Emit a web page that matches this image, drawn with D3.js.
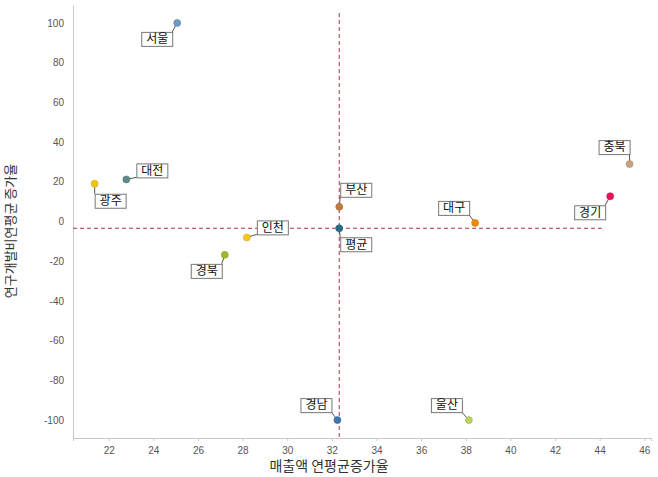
<!DOCTYPE html>
<html>
<head>
<meta charset="utf-8">
<script src="https://cdn.jsdelivr.net/npm/d3@7"></script>
<style>
	body { margin: 0; background: #fff; }
	text { font-family: "Noto Sans CJK KR", "Noto Sans", sans-serif; }
</style>
</head>
<body>
<div id="chart"></div>
<script>
// regions and their values
var regions = ["서울", "대전", "광주", "인천", "경북", "경남", "울산", "부산", "대구", "경기", "충북"];
var salesGrowth = [25.07, 22.79, 21.37, 28.19, 27.2, 32.25, 38.14, 32.33, 38.42, 44.47, 45.34];
var rndGrowth = [100, 21.2, 19, -8, -16.8, -100, -100, 7.4, -0.7, 12.7, 28.9];
var pointColors = ["#6e9ac4", "#5f8a8a", "#f2c40f", "#f6c623", "#9dbb2d", "#3d74b2", "#b6d35c", "#c07a3f", "#ef8a0f", "#e8135a", "#c4a37e"];

// average point
var avgName = "평균";
var avgX = 32.33;
var avgY = -3.4;
var avgColor = "#2c6a8a";
var avgLineEnd = 44.1;

var xTicks = [22, 24, 26, 28, 30, 32, 34, 36, 38, 40, 42, 44, 46];
var yTicks = [-100, -80, -60, -40, -20, 0, 20, 40, 60, 80, 100];

// where each label box goes relative to its point, and which corner the leader touches
var labelLayout = {
	"서울": {dx: -36, dy: 9, corner: "tr"},
	"대전": {dx: 10, dy: -16, corner: "bl"},
	"광주": {dx: 0, dy: 10, corner: "tl"},
	"인천": {dx: 10, dy: -17, corner: "bl"},
	"경북": {dx: -34, dy: 9, corner: "tr"},
	"경남": {dx: -37, dy: -22, corner: "br"},
	"울산": {dx: -38, dy: -22, corner: "br"},
	"부산": {dx: 1, dy: -24, corner: "bl"},
	"평균": {dx: 1, dy: 9, corner: "tl"},
	"대구": {dx: -37, dy: -22, corner: "br"},
	"경기": {dx: -36, dy: 9, corner: "tr"},
	"충북": {dx: -31, dy: -24, corner: "br"}
};

var width = 658, height = 477;
var svg = d3.select("#chart").append("svg")
	.attr("width", width)
	.attr("height", height);

var x = d3.scaleLinear().domain([20.4, 46.3]).range([73, 651]);
var y = d3.scaleLinear().domain([-109, 109]).range([438, 5]);

var fmt = function(d) { return String(d); };

// axes
var xAxis = svg.append("g")
	.attr("transform", "translate(0," + y.range()[0] + ")")
	.call(d3.axisBottom(x).tickValues(xTicks).tickFormat(fmt).tickSize(3).tickPadding(6));
var yAxis = svg.append("g")
	.attr("transform", "translate(" + x.range()[0] + ",0)")
	.call(d3.axisLeft(y).tickValues(yTicks).tickFormat(fmt).tickSize(0).tickPadding(9));

[xAxis, yAxis].forEach(function(a) {
	a.select(".domain").attr("stroke", "#c8c8c8");
	a.selectAll(".tick line").attr("stroke", "#c8c8c8");
	a.selectAll(".tick text")
		.attr("fill", "#555")
		.style("font-size", "10px")
		.style("font-family", "'Liberation Sans', Arial, sans-serif");
});

// axis titles
svg.append("text")
	.attr("x", 329)
	.attr("y", 471)
	.attr("text-anchor", "middle")
	.attr("fill", "#333")
	.style("font-size", "14px")
	.text("매출액 연평균증가율");

svg.append("text")
	.attr("transform", "translate(15,231) rotate(-90)")
	.attr("text-anchor", "middle")
	.attr("fill", "#333")
	.style("font-size", "13px")
	.text("연구개발비연평균 증가율");

// average reference lines
var dash = "4,3";
svg.append("line")
	.attr("x1", x(avgX)).attr("x2", x(avgX))
	.attr("y1", 13).attr("y2", y.range()[0])
	.attr("stroke", "#b8323c").attr("stroke-dasharray", dash);
svg.append("line")
	.attr("x1", x.range()[0]).attr("x2", x(avgLineEnd))
	.attr("y1", y(avgY)).attr("y2", y(avgY))
	.attr("stroke", "#b8323c").attr("stroke-dasharray", dash);

var points = regions.map(function(name, i) {
	return {name: name, x: salesGrowth[i], y: rndGrowth[i], color: pointColors[i]};
});
points.push({name: avgName, x: avgX, y: avgY, color: avgColor});

// labels with leader lines
var labels = svg.append("g").selectAll("g")
	.data(points)
	.enter().append("g");

labels.each(function(d) {
	var g = d3.select(this);
	var lay = labelLayout[d.name];
	var px = x(d.x), py = y(d.y);
	var bw = 31, bh = 14;
	var bx = px + lay.dx, by = py + lay.dy;
	var cx = lay.corner[1] == "r" ? bx + bw : bx;
	var cy = lay.corner[0] == "b" ? by + bh : by;

	g.append("line")
		.attr("x1", px).attr("y1", py)
		.attr("x2", cx).attr("y2", cy)
		.attr("stroke", "#555").attr("stroke-width", 1);
	g.append("rect")
		.attr("x", bx + 0.5).attr("y", by + 0.5)
		.attr("width", bw).attr("height", bh)
		.attr("fill", "#fff")
		.attr("stroke", "#777");
	g.append("text")
		.attr("x", bx + bw / 2 + 0.5)
		.attr("y", by + bh / 2 + 1)
		.attr("text-anchor", "middle")
		.attr("dominant-baseline", "middle")
		.attr("fill", "#111")
		.style("font-size", "12px")
		.text(d.name);
});

// points
svg.append("g").selectAll("circle")
	.data(points)
	.enter().append("circle")
		.attr("cx", function(d) { return x(d.x); })
		.attr("cy", function(d) { return y(d.y); })
		.attr("r", 3.5)
		.attr("fill", function(d) { return d.color; })
		.attr("stroke", function(d) { return d3.color(d.color).darker(0.4); })
		.attr("stroke-width", 0.6);
</script>
</body>
</html>
